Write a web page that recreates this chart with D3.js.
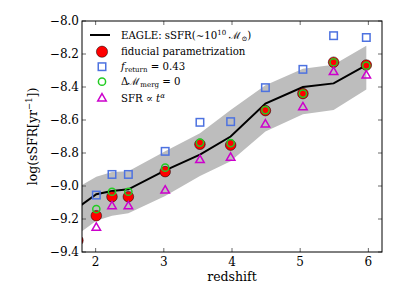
<!DOCTYPE html>
<html>
<head>
<meta charset="utf-8">
<script src="https://cdn.jsdelivr.net/npm/d3@7"></script>
<style>
  html, body { margin: 0; padding: 0; background: #fff; }
</style>
</head>
<body>
<div id="chart"></div>
<script>
// redshift grid (EAGLE snapshots)
const redshift = [1.74, 2.01, 2.24, 2.48, 3.02, 3.53, 3.98, 4.49, 5.04, 5.49, 5.97];

// EAGLE median and scatter band
const eagleMed = [-9.13, -9.05, -9.03, -9.02, -8.905, -8.81, -8.70, -8.50, -8.40, -8.378, -8.267];
const eagleHi  = [-9.008, -8.944, -8.915, -8.91, -8.79, -8.68, -8.54, -8.39, -8.29, -8.265, -8.15];
const eagleLo  = [-9.293, -9.21, -9.18, -9.165, -9.06, -8.94, -8.85, -8.67, -8.565, -8.54, -8.415];

// model variants
const fiducial = [-9.33, -9.18, -9.065, -9.065, -8.913, -8.747, -8.752, -8.543, -8.44, -8.25, -8.267];
const noMerg   = [null, -9.14, -9.035, -9.035, -8.889, -8.737, -8.74, -8.54, -8.44, -8.25, -8.27];
const fReturn  = [null, -9.055, -8.93, -8.93, -8.79, -8.614, -8.61, -8.404, -8.293, -8.089, -8.10];
const sfrPow   = [null, -9.25, -9.12, -9.12, -9.025, -8.84, -8.826, -8.624, -8.52, -8.307, -8.327];

const xTicks = [2, 3, 4, 5, 6];
const yTicks = [-9.4, -9.2, -9.0, -8.8, -8.6, -8.4, -8.2, -8.0];

const W = 411, H = 308;
const margin = { top: 21, right: 29, bottom: 56, left: 82 };
const iw = W - margin.left - margin.right;
const ih = H - margin.top - margin.bottom;

const RED = "#ff0000", GREEN = "#22cc22", BLUE = "#4d72e0", MAGENTA = "#cc00cc";

const svg = d3.select("#chart").append("svg")
  .attr("width", W).attr("height", H)
  .attr("font-family", "'DejaVu Serif', 'Liberation Serif', serif");

svg.append("defs").append("clipPath").attr("id", "clip")
  .append("rect").attr("width", iw).attr("height", ih);

const g = svg.append("g").attr("transform", `translate(${margin.left},${margin.top})`);

const x = d3.scaleLinear().domain([1.8, 6.2]).range([0, iw]);
const y = d3.scaleLinear().domain([-9.4, -8.0]).range([ih, 0]);

const plot = g.append("g").attr("clip-path", "url(#clip)");

// ── EAGLE band + median ──
const idx = d3.range(redshift.length);
plot.append("path")
  .attr("d", d3.area().x(i => x(redshift[i])).y0(i => y(eagleLo[i])).y1(i => y(eagleHi[i]))(idx))
  .attr("fill", "#bdbdbd");
plot.append("path")
  .attr("d", d3.line().x(i => x(redshift[i])).y(i => y(eagleMed[i]))(idx))
  .attr("fill", "none").attr("stroke", "#000").attr("stroke-width", 2);

// ── markers ──
const pts = arr => idx.filter(i => arr[i] != null).map(i => [x(redshift[i]), y(arr[i])]);
const sq = 7.5, tri = 8.5;
const triPath = (cx, cy, s) => {
  const h = s * 0.866;
  return `M${cx},${cy - h * 0.6}L${cx + s / 2},${cy + h * 0.4}L${cx - s / 2},${cy + h * 0.4}Z`;
};

plot.selectAll(".sq").data(pts(fReturn)).join("rect")
  .attr("x", d => d[0] - sq / 2).attr("y", d => d[1] - sq / 2)
  .attr("width", sq).attr("height", sq)
  .attr("fill", "none").attr("stroke", BLUE).attr("stroke-width", 1.5);

plot.selectAll(".fid").data(pts(fiducial)).join("circle")
  .attr("cx", d => d[0]).attr("cy", d => d[1]).attr("r", 5.3)
  .attr("fill", RED).attr("stroke", "#000").attr("stroke-width", 0.5);

plot.selectAll(".mg").data(pts(noMerg)).join("circle")
  .attr("cx", d => d[0]).attr("cy", d => d[1]).attr("r", 3.6)
  .attr("fill", "none").attr("stroke", GREEN).attr("stroke-width", 1.5);

plot.selectAll(".tri").data(pts(sfrPow)).join("path")
  .attr("d", d => triPath(d[0], d[1], tri))
  .attr("fill", "none").attr("stroke", MAGENTA).attr("stroke-width", 1.5);

// ── axes: inside ticks on all sides ──
const tickLen = 4;
const tickG = g.append("g").attr("stroke", "#444").attr("stroke-width", 0.8);
for (const t of xTicks) {
  tickG.append("line").attr("x1", x(t)).attr("x2", x(t)).attr("y1", ih).attr("y2", ih - tickLen);
  tickG.append("line").attr("x1", x(t)).attr("x2", x(t)).attr("y1", 0).attr("y2", tickLen);
}
for (const t of yTicks) {
  tickG.append("line").attr("x1", 0).attr("x2", tickLen).attr("y1", y(t)).attr("y2", y(t));
  tickG.append("line").attr("x1", iw).attr("x2", iw - tickLen).attr("y1", y(t)).attr("y2", y(t));
}
g.append("rect").attr("width", iw).attr("height", ih)
  .attr("fill", "none").attr("stroke", "#000").attr("stroke-width", 1);

const fmt = d3.format(".1f");
g.selectAll(".xt").data(xTicks).join("text")
  .attr("x", d => x(d)).attr("y", ih + 14)
  .attr("text-anchor", "middle").attr("font-size", 12).text(d => d);
g.selectAll(".yt").data(yTicks).join("text")
  .attr("x", -3).attr("y", d => y(d) + 4.3)
  .attr("text-anchor", "end").attr("font-size", 12)
  .text(d => fmt(d).replace("-", "\u2212"));

g.append("text").attr("x", iw / 2).attr("y", ih + 29)
  .attr("text-anchor", "middle").attr("font-size", 12.5).text("redshift");

const yl = g.append("text")
  .attr("transform", `translate(${-45},${ih / 2}) rotate(-90)`)
  .attr("text-anchor", "middle").attr("font-size", 12.5);
yl.append("tspan").text("log(sSFR[yr");
yl.append("tspan").attr("font-size", 8.5).attr("dy", -5).text("\u22121");
yl.append("tspan").attr("dy", 5).text("])");

// ── legend ──
const leg = g.append("g").attr("font-size", 10.2);
const lx = 20, tx = 39;
const rows = [14, 30.7, 45.7, 60.7, 77];

leg.append("line").attr("x1", lx - 12).attr("x2", lx + 8).attr("y1", rows[0]).attr("y2", rows[0])
  .attr("stroke", "#000").attr("stroke-width", 2);
leg.append("circle").attr("cx", lx).attr("cy", rows[1]).attr("r", 5.6)
  .attr("fill", RED).attr("stroke", "#000").attr("stroke-width", 0.5);
leg.append("rect").attr("x", lx - sq / 2).attr("y", rows[2] - sq / 2).attr("width", sq).attr("height", sq)
  .attr("fill", "none").attr("stroke", BLUE).attr("stroke-width", 1.5);
leg.append("circle").attr("cx", lx).attr("cy", rows[3]).attr("r", 3.6)
  .attr("fill", "none").attr("stroke", GREEN).attr("stroke-width", 1.5);
leg.append("path").attr("d", triPath(lx, rows[4], tri))
  .attr("fill", "none").attr("stroke", MAGENTA).attr("stroke-width", 1.5);

const t0 = leg.append("text").attr("x", tx).attr("y", rows[0] + 3.6);
t0.append("tspan").text("EAGLE: sSFR(\u223C10");
t0.append("tspan").attr("font-size", 7).attr("dy", -4).text("10");
t0.append("tspan").attr("dy", 4).text(" \u2133");
t0.append("tspan").attr("font-size", 7).attr("dy", 2).text("\u2299");
t0.append("tspan").attr("dy", -2).text(")");

leg.append("text").attr("x", tx).attr("y", rows[1] + 3.6).text("fiducial parametrization");

const t2 = leg.append("text").attr("x", tx).attr("y", rows[2] + 3.6);
t2.append("tspan").attr("font-style", "italic").text("f");
t2.append("tspan").attr("font-size", 7).attr("dy", 2).text("return");
t2.append("tspan").attr("dy", -2).text(" = 0.43");

const t3 = leg.append("text").attr("x", tx).attr("y", rows[3] + 3.6);
t3.append("tspan").text("\u0394\u2133");
t3.append("tspan").attr("font-size", 7).attr("dy", 2).text("merg");
t3.append("tspan").attr("dy", -2).text(" = 0");

const t4 = leg.append("text").attr("x", tx).attr("y", rows[4] + 3.6);
t4.append("tspan").text("SFR \u221D ");
t4.append("tspan").attr("font-style", "italic").text("t");
t4.append("tspan").attr("font-size", 7).attr("dy", -4).attr("font-style", "italic").text("\u03B1");
</script>
</body>
</html>
